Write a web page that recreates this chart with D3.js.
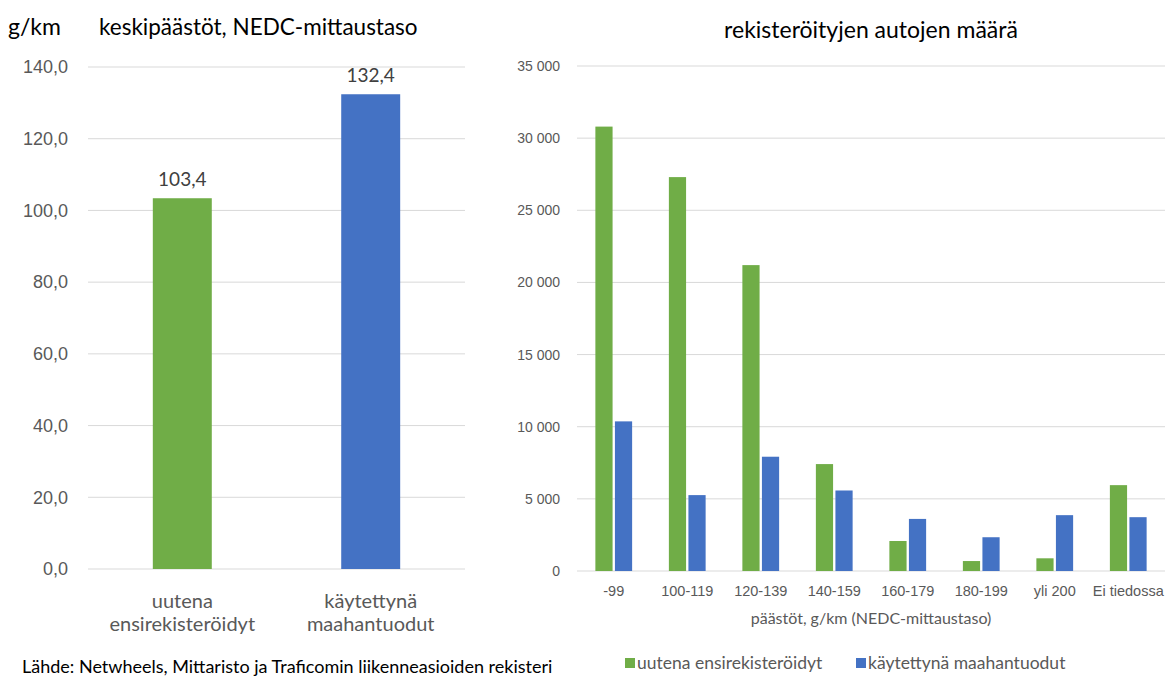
<!DOCTYPE html>
<html lang="fi">
<head>
<meta charset="utf-8">
<title>Päästöt</title>
<script src="https://d3js.org/d3.v7.min.js"></script>
<style>
  body { margin: 0; background: #fff; }
  svg { font-family: Lato, "Noto Sans", sans-serif; }
  .grid line { stroke: #d9d9d9; stroke-width: 1; }
  .tick text { fill: #595959; }
</style>
</head>
<body>
<div id="chart"></div>
<script>
// left chart: average emissions
var avgCats = ["uutena ensirekisteröidyt", "käytettynä maahantuodut"];
var avgLabels = [["uutena", "ensirekisteröidyt"], ["käytettynä", "maahantuodut"]];
var avgValues = [103.4, 132.4];
var avgTicks = [0, 20, 40, 60, 80, 100, 120, 140];

// right chart: registered cars by emission class
var classes = ["-99", "100-119", "120-139", "140-159", "160-179", "180-199", "yli 200", "Ei tiedossa"];
var series = ["uutena ensirekisteröidyt", "käytettynä maahantuodut"];
var newCars = [30800, 27300, 21200, 7410, 2080, 690, 880, 5950];
var usedCars = [10370, 5260, 7920, 5580, 3610, 2340, 3870, 3730];
var countTicks = [0, 5000, 10000, 15000, 20000, 25000, 30000, 35000];

var colors = ["#70AD47", "#4472C4"];

var svg = d3.select("#chart").append("svg")
    .attr("width", 1170)
    .attr("height", 679);

// ---- left chart
var xL = d3.scaleBand().domain(avgCats).range([88, 465]).paddingInner(0.687).paddingOuter(0.344);
var yL = d3.scaleLinear().domain([0, 140]).range([569, 67]);
var fmt1 = function(d) { return d.toFixed(1).replace(".", ","); };

var left = svg.append("g");
left.append("g").attr("class", "grid")
  .selectAll("line").data(avgTicks).enter().append("line")
    .attr("x1", 88).attr("x2", 465)
    .attr("y1", function(d) { return yL(d); })
    .attr("y2", function(d) { return yL(d); });

var axL = left.append("g").attr("transform", "translate(88,0)")
  .call(d3.axisLeft(yL).tickValues(avgTicks).tickFormat(fmt1).tickSize(0).tickPadding(20));
axL.select(".domain").remove();
axL.selectAll("text").style("font-size", "18px");

left.selectAll("rect").data(avgValues).enter().append("rect")
  .attr("x", function(d, i) { return xL(avgCats[i]); })
  .attr("width", xL.bandwidth())
  .attr("y", function(d) { return yL(d); })
  .attr("height", function(d) { return yL(0) - yL(d); })
  .attr("fill", function(d, i) { return colors[i]; });

left.selectAll(".val").data(avgValues).enter().append("text")
  .attr("class", "val")
  .attr("x", function(d, i) { return xL(avgCats[i]) + xL.bandwidth() / 2; })
  .attr("y", function(d) { return yL(d) - 12; })
  .attr("text-anchor", "middle")
  .style("font-size", "19px").style("fill", "#404040")
  .text(fmt1);

avgLabels.forEach(function(lines, i) {
  var t = left.append("text")
    .attr("text-anchor", "middle")
    .style("font-size", "20px").style("fill", "#595959");
  lines.forEach(function(s, j) {
    t.append("tspan")
      .attr("x", xL(avgCats[i]) + xL.bandwidth() / 2)
      .attr("y", 608 + j * 23)
      .text(s);
  });
});

svg.append("text").attr("x", 8).attr("y", 35)
  .style("font-size", "23px").style("fill", "#000").text("g/km");
svg.append("text").attr("x", 99).attr("y", 35)
  .style("font-size", "22.5px").style("fill", "#000").text("keskipäästöt, NEDC-mittaustaso");

svg.append("text").attr("x", 22).attr("y", 673)
  .style("font-size", "18px").style("fill", "#000")
  .text("Lähde: Netwheels, Mittaristo ja Traficomin liikenneasioiden rekisteri");

// ---- right chart
var x0 = d3.scaleBand().domain(classes).range([577, 1165]).paddingInner(0.5).paddingOuter(0.25);
var x1 = d3.scaleBand().domain(series).range([0, x0.bandwidth()]).paddingInner(0.12);
var yR = d3.scaleLinear().domain([0, 35000]).range([571, 66]);
var fmtK = function(d) { return d3.format(",")(d).replace(/,/g, " "); };

var right = svg.append("g");
right.append("g").attr("class", "grid")
  .selectAll("line").data(countTicks).enter().append("line")
    .attr("x1", 577).attr("x2", 1165)
    .attr("y1", function(d) { return yR(d); })
    .attr("y2", function(d) { return yR(d); });

var axR = right.append("g").attr("transform", "translate(577,0)")
  .call(d3.axisLeft(yR).tickValues(countTicks).tickFormat(fmtK).tickSize(0).tickPadding(17));
axR.select(".domain").remove();
axR.selectAll("text").style("font-size", "14px");

var rows = classes.map(function(c, i) { return { cat: c, vals: [newCars[i], usedCars[i]] }; });
var grp = right.selectAll(".grp").data(rows).enter().append("g")
  .attr("transform", function(d) { return "translate(" + x0(d.cat) + ",0)"; });
grp.selectAll("rect").data(function(d) { return d.vals; }).enter().append("rect")
  .attr("x", function(d, i) { return x1(series[i]); })
  .attr("width", x1.bandwidth())
  .attr("y", function(d) { return yR(d); })
  .attr("height", function(d) { return yR(0) - yR(d); })
  .attr("fill", function(d, i) { return colors[i]; });

var axX = right.append("g").attr("transform", "translate(0,571)")
  .call(d3.axisBottom(x0).tickSize(0).tickPadding(15));
axX.select(".domain").remove();
axX.selectAll("text").style("font-size", "14.5px");

right.append("text").attr("x", 871).attr("y", 624).attr("text-anchor", "middle")
  .style("font-size", "16px").style("fill", "#595959")
  .text("päästöt, g/km (NEDC-mittaustaso)");

right.append("text").attr("x", 871).attr("y", 38).attr("text-anchor", "middle")
  .style("font-size", "23px").style("fill", "#000")
  .text("rekisteröityjen autojen määrä");

// legend
var legX = [625, 856];
var leg = right.selectAll(".leg").data(series).enter().append("g")
  .attr("transform", function(d, i) { return "translate(" + legX[i] + ",658)"; });
leg.append("rect").attr("width", 10).attr("height", 10)
  .attr("fill", function(d, i) { return colors[i]; });
leg.append("text").attr("x", 12).attr("y", 11)
  .style("font-size", "17.5px").style("fill", "#595959")
  .text(function(d) { return d; });
</script>
</body>
</html>
